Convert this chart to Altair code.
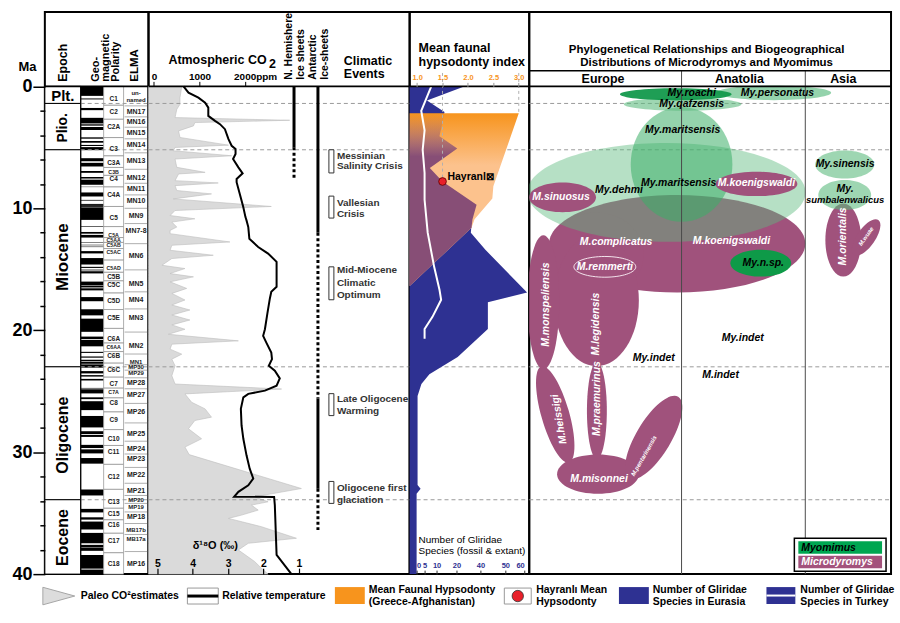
import altair as alt
import pandas as pd

FONT = "Liberation Sans"

# ============================ DATA (Ma = million years ago) ============================
epoch_names = ["Plt.", "Plio.", "Miocene", "Oligocene", "Eocene"]
epoch_top = [0.0, 1.4, 5.2, 23.0, 33.9]
epoch_base = [1.4, 5.2, 23.0, 33.9, 40.0]
epoch_label_ma = [0.8, 3.4, 14.0, 28.6, 37.0]

boundary_ma = [1.4, 5.2, 23.0, 33.9]

normal_top = [0.00, 0.99, 1.77, 2.58, 3.11, 3.33, 4.18, 4.48, 4.80, 4.98, 5.89, 6.27, 6.94,
              7.43, 7.65, 8.23, 8.70, 9.31, 9.64, 9.74, 9.92, 11.48, 11.94, 12.18, 12.78,
              12.99, 13.14, 13.51, 14.08, 14.80, 15.03, 15.16, 16.01, 16.33, 16.56, 17.28,
              18.28, 19.05, 20.52, 20.80, 21.77, 22.15, 22.42, 22.59, 22.80, 23.35, 23.68,
              23.99, 24.73, 24.84, 25.50, 25.82, 27.03, 28.28, 28.58, 29.40, 29.77, 30.48,
              33.06, 34.65, 35.34, 35.69, 36.62, 37.60, 37.85, 38.43, 39.63]
normal_base = [0.78, 1.07, 1.95, 3.04, 3.22, 3.58, 4.29, 4.62, 4.89, 5.23, 6.14, 6.57, 7.09,
               7.56, 8.07, 8.26, 9.03, 9.37, 9.72, 9.88, 10.95, 11.53, 12.08, 12.40, 12.82,
               13.03, 13.18, 13.70, 14.61, 14.89, 15.09, 15.34, 16.29, 16.49, 16.73, 17.62,
               18.78, 20.13, 20.73, 21.32, 21.86, 22.25, 22.54, 22.75, 23.07, 23.54, 23.80,
               24.12, 24.78, 25.18, 25.65, 26.55, 27.97, 28.51, 28.75, 29.66, 30.10, 30.94,
               33.55, 34.94, 35.53, 36.34, 37.47, 37.82, 38.09, 39.55, 40.00]

chron_names = ["C1", "C2", "C2A", "C3", "C3A", "C3B", "C4", "C4A", "C5", "C5A", "C5AA",
               "C5AB", "C5AC", "C5AD", "C5B", "C5C", "C5D", "C5E", "C6A", "C6AA", "C6B",
               "C6C", "C7", "C7A", "C8", "C9", "C10", "C11", "C12", "C13", "C15", "C16",
               "C17", "C18"]
chron_label_ma = [1.0, 2.1, 3.3, 5.1, 6.3, 7.0, 7.6, 8.9, 10.8, 12.2, 12.6, 13.0, 13.6,
                  14.9, 15.6, 16.3, 17.6, 19.0, 20.7, 21.4, 22.1, 23.3, 24.4, 25.1, 26.0,
                  27.4, 28.9, 30.0, 32.0, 34.1, 35.1, 36.0, 37.3, 39.2]

elma_names = ["un-", "named", "MN17", "MN16", "MN15", "MN14", "MN13", "MN12", "MN11",
              "MN10", "MN9", "MN7-8", "MN6", "MN5", "MN4", "MN3", "MN2", "MN1", "MP30",
              "MP29", "MP28", "MP27", "MP26", "MP25", "MP24", "MP23", "MP22", "MP21",
              "MP20", "MP19", "MP18", "MB17b", "MB17a", "MP16"]
elma_label_ma = [0.55, 1.1, 2.1, 2.9, 3.8, 4.8, 6.1, 7.5, 8.4, 9.4, 10.6, 11.9, 13.9, 16.2,
                 17.5, 19.0, 21.3, 22.6, 23.05, 23.5, 24.3, 25.3, 26.7, 28.5, 29.7, 30.6,
                 31.9, 33.2, 33.9, 34.5, 35.3, 36.4, 37.1, 39.2]

# Paleo estimates (grey area) on the delta18O axis
d18o_ma = [0.0, 0.93, 1.47, 1.88, 2.56, 2.78, 2.97, 3.24, 3.65, 4.19,
           4.82, 5.01, 5.28, 5.69, 5.96, 6.64, 7.05, 7.18, 7.73, 7.92,
           8.14, 8.54, 8.82, 9.23, 9.85, 10.18, 10.59, 10.86, 11.13, 11.54,
           11.81, 12.08, 12.76, 13.03, 13.44, 13.85, 14.12, 14.67, 14.94, 15.35,
           15.62, 16.03, 16.57, 16.98, 17.52, 17.93, 18.34, 18.75, 19.16, 19.56,
           19.92, 20.33, 20.87, 21.14, 21.55, 21.96, 22.37, 22.91, 23.73, 24.41,
           24.82, 25.22, 25.91, 26.45, 27.13, 27.40, 28.08, 28.90, 29.58, 30.20,
           32.98, 33.66, 34.07, 34.34, 34.75, 35.16, 35.43, 36.11, 37.06, 37.47,
           38.02, 38.97, 39.51, 40.0]
d18o_val = [4.31, 4.36, 4.36, 4.45, 4.50, 1.26, 3.94, 3.98, 4.40, 4.36,
            2.99, 4.50, 4.55, 2.90, 4.50, 4.45, 3.65, 4.40, 4.50, 3.28,
            4.50, 4.45, 3.47, 4.55, 1.78, 4.50, 4.64, 3.94, 4.59, 4.45,
            4.64, 4.64, 2.95, 4.59, 4.64, 3.42, 4.59, 4.87, 4.22, 4.64,
            3.98, 4.64, 4.17, 4.59, 4.22, 4.59, 4.08, 4.59, 4.08, 4.59,
            4.22, 4.69, 2.71, 4.59, 4.64, 4.31, 4.59, 4.50, 4.59, 4.50,
            1.49, 4.22, 4.03, 3.65, 3.47, 3.94, 4.12, 3.75, 4.22, 4.10,
            0.93, 2.25, 1.87, 2.34, 2.15, 2.62, 2.99, 2.06, 1.07, 2.43,
            2.71, 2.25, 2.06, 1.87]

# Relative temperature (black line), same axis
temp_ma = [0.0, 0.52, 0.93, 1.33, 1.74, 2.42, 2.83, 3.10, 3.51, 4.33,
           4.87, 5.14, 5.55, 5.96, 6.64, 7.13, 7.59, 7.86, 8.82, 9.91,
           10.72, 10.99, 11.54, 12.49, 13.17, 13.71, 14.39, 15.89, 16.44, 16.84,
           17.39, 18.61, 19.92, 20.46, 21.01, 21.82, 22.37, 22.91, 23.32, 23.95,
           24.55, 24.95, 25.22, 25.50, 26.45, 27.81, 28.90, 30.26, 31.35, 32.16,
           32.71, 33.25, 33.66, 33.67, 34.34, 38.42, 40.0]
temp_val = [4.26, 4.12, 3.84, 3.65, 3.56, 3.56, 3.37, 3.23, 3.09, 2.99,
            2.90, 2.79, 2.79, 2.86, 2.71, 2.59, 2.76, 2.76, 2.67, 2.57,
            2.51, 2.48, 2.43, 2.40, 2.15, 1.87, 1.63, 1.63, 1.63, 1.78,
            1.82, 1.89, 1.96, 2.01, 1.92, 1.78, 1.76, 1.85, 1.68, 1.54,
            1.63, 1.96, 2.43, 2.57, 2.64, 2.62, 2.57, 2.48, 2.39, 2.29,
            2.43, 2.71, 2.83, 1.70, 1.68, 1.63, 1.21]

co2_ticks = [0, 1000, 2000]
d18o_ticks = [5, 4, 3, 2, 1]

nh_solid_top, nh_solid_base = [0.0], [5.0]
nh_dot_top, nh_dot_base = [5.0], [7.7]
ant_solid_top, ant_solid_base = [0.0, 25.6], [12.0, 33.0]
ant_dot_top, ant_dot_base = [12.0, 33.0], [25.6, 36.5]

event_top = [5.2, 9.0, 14.8, 25.2, 32.4]
event_base = [7.1, 10.8, 17.5, 27.0, 34.2]
event_lines = ["Messinian", "Salinity Crisis", "Vallesian", "Crisis", "Mid-Miocene",
               "Climatic", "Optimum", "Late Oligocene", "Warming", "Oligocene first",
               "glaciation"]
event_line_ma = [5.7, 6.5, 9.6, 10.5, 15.1, 16.1, 17.1, 25.6, 26.6, 32.9, 33.9]

hyps_ticks = [1.0, 1.5, 2.0, 2.5, 3.0]
glir_ticks = [0, 5, 10, 20, 40, 50, 60]

glir_eur_ma = [0.0, 1.15, 2.1, 4.1, 5.1, 6.7, 7.8, 9.7, 10.9, 12.0, 13.4, 16.9, 17.7,
               19.9, 22.2, 23.6, 24.4, 25.4, 32.7, 33.0, 33.4, 40.0]
glir_eur_n = [27, 6, 14, 11.5, 21, 7, 13, 36.7, 33, 32, 42, 61.5, 43, 43, 21, 7, 3, 0.6,
              0.6, 2.5, 0, 0]

glir_tur_ma = [0.0, 2.0, 3.6, 5.2, 7.1, 9.3, 12.0, 14.8, 16.7, 17.5, 18.9, 19.9, 20.7]
glir_tur_n = [7.8, 2.9, 5, 3.8, 5, 5, 6.3, 9, 11.5, 12.3, 8.3, 5, 5]

hyps_ma = [2.2, 8.2, 9.2, 10.9, 11.6, 14.0, 16.4]
hyps_val = [3.0, 2.5, 2.48, 2.13, 2.07, 1.46, 0.85]
overlap_ma = [2.2, 4.1, 5.1, 6.7, 7.8, 9.7, 10.9, 11.6, 14.0, 16.4]
overlap_val = [1.54, 1.44, 1.79, 1.25, 1.50, 2.17, 2.09, 2.07, 1.46, 0.85]
hayranli_ma, hayranli_val = [7.8], [1.5]

# Phylogeny: x = relative geographic position 0..100 (Europe | Anatolia | Asia)
region_names = ["Europe", "Anatolia", "Asia"]
region_dividers = [42.1, 76.3]

ell_name = ["M.koenigswaldi", "M.complicatus", "M.legidensis", "M.monspeliensis",
            "M.heissigi", "M.praemurinus", "M.misonnei", "M.pentarinensis", "M.orientalis",
            "M.wuae", "My.dehmi", "My.maritsensis", "M.sinuosus", "M.koenigswaldi (2)",
            "My.sinensis", "My.sumbalenwalicus", "My.qafzensis", "My.personatus",
            "My.roachi", "My.n.sp."]
ell_u = [40.9, 18.5, 18.6, 3.9, 7.2, 18.7, 19.0, 34.4, 86.8, 93.1, 37.9, 42.1, 9.2, 62.8,
         87.2, 87.2, 42.4, 67.6, 40.5, 64.0]
ell_ma = [12.9, 13.8, 17.55, 17.7, 26.9, 26.6, 31.8, 28.8, 12.6, 12.4, 8.7, 6.4, 9.1, 8.0,
          6.4, 8.9, 1.47, 0.53, 0.65, 14.5]
ell_wu = [70.8, 26.2, 23.4, 8.8, 7.7, 5.5, 22.6, 9.6, 9.9, 5.0, 76.9, 28.1, 18.5, 22.6,
          16.3, 14.6, 32.5, 31.7, 30.9, 16.8]
ell_hma = [8.0, 6.9, 10.8, 11.0, 8.2, 7.9, 3.2, 7.8, 6.0, 3.5, 8.1, 9.4, 2.45, 2.0, 2.3,
           2.45, 1.06, 1.2, 1.0, 2.2]
remmerti_u, remmerti_ma, remmerti_wu, remmerti_hma = [20.9], [14.8], [17.1], [1.7]

sp_text = ["My.roachi", "My.personatus", "My.qafzensis", "My.maritsensis",
           "My.maritsensis", "My.dehmi", "M.sinuosus", "M.koenigswaldi", "M.complicatus",
           "M.koenigswaldi", "M.remmerti", "My.n.sp.", "My.sinensis", "My.",
           "sumbalenwalicus", "M.orientalis", "M.wuae", "M.monspeliensis", "M.legidensis",
           "M.heissigi", "M.praemurinus", "M.misonnei", "M.pentarinensis", "My.indet",
           "My.indet", "M.indet"]
sp_u = [44.9, 68.6, 44.9, 42.4, 41.3, 24.8, 8.8, 62.8, 24.0, 55.9, 20.9, 64.7, 87.3, 87.3,
        87.3, 86.8, 93.1, 4.7, 18.5, 8.3, 18.7, 19.3, 31.7, 34.4, 59.0, 52.9]
sp_ma = [0.57, 0.57, 1.47, 3.6, 7.9, 8.5, 9.1, 7.9, 12.8, 12.65, 14.8, 14.45, 6.4, 8.4,
         9.3, 12.3, 12.3, 17.9, 19.5, 27.3, 25.6, 32.2, 30.3, 22.3, 20.6, 23.7]
sp_on_purple = [False, False, False, False, False, False, True, True, True, True, True,
                False, False, False, False, True, True, True, True, True, True, True, True,
                False, False, False]

# ============================ LAYOUT / STYLE ============================
H = 564
YMIN, YMAX = -6.1, 40.0
PX_MA = H / (YMAX - YMIN)
Y0 = -YMIN * PX_MA            # pixel row of 0 Ma inside each panel
W_STRAT, W_CLIM, W_HYPS, W_PHYL = 104, 262, 120, 363
PX_U = W_PHYL / 100.0

NAVY = "#2e3192"
ORANGE = "#f7941d"
PEACH = "#fcc28d"
MAUVE = "135,78,118"
PURPLE = "#a0527c"
GREY_DASH = "#9b9b9b"

epoch_label_size = [15, 14, 17, 16, 16]
epoch_label_angle = [0, 270, 270, 270, 270]
chron_small = {"C3B", "C5A", "C5AA", "C5AB", "C5AC", "C5AD", "C6AA", "C7A"}
elma_small = {"un-", "named", "MN1", "MP30", "MP29", "MP20", "MP19", "MB17b", "MB17a"}

ell_kind = ["micro", "micro", "micro", "micro", "micro", "micro", "micro", "micro", "micro",
            "micro", "pale", "mid", "micro", "micro", "light", "light", "light", "mid",
            "dark", "nsp"]
ell_angle = [0, 0, 0, 0, 344, 0, 0, 31, 0, 35, 0, 0, 0, 0, 0, 0, 0, 0, 0, 0]
kind_fill = {"micro": PURPLE, "pale": "#5dbb7e", "mid": "#3cae68", "light": "#5dbb7e",
             "dark": "#13994c", "nsp": "#0e9a48"}
kind_op = {"micro": 1.0, "pale": 0.45, "mid": 0.55, "light": 0.6, "dark": 0.95, "nsp": 1.0}

sp_angle = [0, 0, 0, 0, 0, 0, 0, 0, 0, 0, 0, 0, 0, 0, 0, 270, 305, 270, 270, 260, 270, 0,
            300, 0, 0, 0]
sp_size = [10.5] * 26
sp_size[14] = 9.5
sp_size[16] = 6
sp_size[22] = 6

YSC = alt.Scale(domain=[YMIN, YMAX], reverse=True, nice=False, zero=False)
VIEW = alt.ViewBackground(stroke="black", strokeWidth=2)
ONE = pd.DataFrame({"k": [0]})


def Y(field="ma"):
    return alt.Y(f"{field}:Q", scale=YSC, axis=None)


def txt(text, x, y, size=11.0, weight="bold", angle=0, align="center", color="black",
        style="normal"):
    return alt.Chart(ONE).mark_text(
        text=text, font=FONT, fontSize=size, fontWeight=weight, angle=angle, align=align,
        baseline="middle", color=color, fontStyle=style
    ).encode(x=alt.value(x), y=alt.value(y))


bound_df = pd.DataFrame({"ma": boundary_ma})


def dashed(x0, x1):
    return alt.Chart(bound_df).mark_rule(color=GREY_DASH, strokeDash=[4, 3], strokeWidth=1).encode(
        y=Y(), x=alt.value(x0), x2=alt.value(x1))


zero_df = pd.DataFrame({"ma": [0.0]})


def zero_line(w):
    return alt.Chart(zero_df).mark_rule(color="black", strokeWidth=2).encode(
        y=Y(), x=alt.value(0), x2=alt.value(w))


def ellipse_path(wpx, hpx):
    d = max(wpx, hpx)
    rx, ry = wpx / d, hpx / d
    k = 0.5523
    kx, ky = k * rx, k * ry
    p = (f"M {rx:.4f} 0 C {rx:.4f} {ky:.4f} {kx:.4f} {ry:.4f} 0 {ry:.4f} "
         f"C {-kx:.4f} {ry:.4f} {-rx:.4f} {ky:.4f} {-rx:.4f} 0 "
         f"C {-rx:.4f} {-ky:.4f} {-kx:.4f} {-ry:.4f} 0 {-ry:.4f} "
         f"C {kx:.4f} {-ry:.4f} {rx:.4f} {-ky:.4f} {rx:.4f} 0 Z")
    return p, d * d


# ============================ PANEL 1: stratigraphy ============================
ep_df = pd.DataFrame({"name": epoch_names, "top": epoch_top, "base": epoch_base,
                      "lab": epoch_label_ma, "sz": epoch_label_size, "ang": epoch_label_angle})
ma_axis = alt.Axis(
    values=list(range(0, 41, 2)),
    labelExpr="datum.value % 10 == 0 ? datum.label : ''",
    labelFontSize=18, labelFontWeight="bold", labelFont=FONT, labelColor="black",
    labelPadding=1, labelOverlap=False,
    tickSize={"condition": {"test": "datum.value % 10 == 0", "value": 12}, "value": 5},
    tickWidth=1.5, tickColor="black", domain=False, grid=False, zindex=1,
    title="Ma", titleAngle=0, titleX=-18, titleY=55, titleAlign="center",
    titleBaseline="middle", titleFontSize=13, titleFontWeight="bold", titleFont=FONT,
    titleColor="black")

ep_rect = alt.Chart(ep_df).mark_rect(fill="white", stroke="black", strokeWidth=1).encode(
    x=alt.value(0), x2=alt.value(36),
    y=alt.Y("top:Q", scale=YSC, axis=ma_axis), y2="base:Q")
ep_text = alt.Chart(ep_df).mark_text(fontWeight="bold", font=FONT, color="black").encode(
    x=alt.value(18), y=Y("lab"), text="name:N",
    size=alt.Size("sz:Q", scale=None), angle=alt.Angle("ang:Q", scale=None))

pol_df = pd.DataFrame({"top": normal_top, "base": normal_base})
pol = alt.Chart(pol_df).mark_rect(fill="black").encode(
    x=alt.value(36), x2=alt.value(59), y=Y("top"), y2="base:Q")

cb = [0.0] + [(a + b) / 2 for a, b in zip(chron_label_ma[:-1], chron_label_ma[1:])] + [40.0]
chron_df = pd.DataFrame({"name": chron_names, "ma": chron_label_ma, "top": cb[:-1],
                         "base": cb[1:],
                         "sz": [5.3 if n in chron_small else 6.5 for n in chron_names]})
chron_box = alt.Chart(chron_df).mark_rect(fill="white", stroke="#8c8c8c", strokeWidth=0.7).encode(
    x=alt.value(59), x2=alt.value(79), y=Y("top"), y2="base:Q")
chron_txt = alt.Chart(chron_df).mark_text(fontWeight="bold", font=FONT, color="#222").encode(
    x=alt.value(69), y=Y(), text="name:N", size=alt.Size("sz:Q", scale=None))

zones = elma_label_ma[1:]
elma_sep_df = pd.DataFrame({"ma": [(a + b) / 2 for a, b in zip(zones[:-1], zones[1:])]})
elma_sep = alt.Chart(elma_sep_df).mark_rule(color="#9a9a9a", strokeWidth=0.8).encode(
    y=Y(), x=alt.value(80), x2=alt.value(103))
elma_df = pd.DataFrame({"name": elma_names, "ma": elma_label_ma,
                        "sz": [6 if n in elma_small else 7 for n in elma_names]})
elma_txt = alt.Chart(elma_df).mark_text(fontWeight="bold", font=FONT, color="#222").encode(
    x=alt.value(91.5), y=Y(), text="name:N", size=alt.Size("sz:Q", scale=None))

col_sep_df = pd.DataFrame({"a": [0.0], "b": [40.0]})
col_sep = alt.Chart(col_sep_df).mark_rule(color="black", strokeWidth=1).encode(
    x=alt.value(36), y=Y("a"), y2="b:Q")

strat = alt.layer(
    ep_rect, pol, chron_box, elma_sep, dashed(36, 104), col_sep, chron_txt, elma_txt,
    ep_text, zero_line(W_STRAT),
    txt("Epoch", 18, 70, 12.5, angle=270, align="left"),
    txt("Geo-", 51, 70, 11, angle=270, align="left"),
    txt("magnetic", 61, 70, 11, angle=270, align="left"),
    txt("Polarity", 71, 70, 11, angle=270, align="left"),
    txt("ELMA", 90, 70, 11.5, angle=270, align="left"),
).resolve_axis(y="independent").properties(width=W_STRAT, height=H, view=VIEW)

# ============================ PANEL 2: climate ============================
DSC = alt.Scale(domain=[5.25, -2.13], nice=False, zero=False)
CO2SC = alt.Scale(domain=[-120, 5607], nice=False, zero=False)

d18_df = pd.DataFrame({"ma": d18o_ma, "d": d18o_val})
grey = alt.Chart(d18_df).mark_area(orient="horizontal", fill="#dadada", stroke="#bdbdbd",
                                   strokeWidth=0.6).encode(
    x=alt.X("d:Q", scale=DSC, stack=False, axis=alt.Axis(
        orient="top", offset=-H, values=d18o_ticks, format="d", labelFontSize=10.5,
        labelFontWeight="bold", labelFont=FONT, labelColor="black", labelPadding=0,
        labelOverlap=False, tickSize=6, tickColor="black", tickWidth=1.2, domain=False,
        grid=False, zindex=1, title=None)),
    x2=alt.value(0), y=Y())

temp_df = pd.DataFrame({"ma": temp_ma, "d": temp_val, "i": list(range(len(temp_ma)))})
temp = alt.Chart(temp_df).mark_line(color="black", strokeWidth=2).encode(
    x=alt.X("d:Q", scale=DSC, axis=None), y=Y(), order="i:Q")

co2_df = pd.DataFrame({"ppm": co2_ticks})
co2 = alt.Chart(co2_df).mark_rule(opacity=0).encode(
    x=alt.X("ppm:Q", scale=CO2SC, axis=alt.Axis(
        orient="top", offset=-Y0, values=co2_ticks,
        labelExpr="datum.value == 2000 ? '2000ppm' : format(datum.value, 'd')",
        labelOffset={"condition": {"test": "datum.value == 2000", "value": 10}, "value": 0},
        labelFontSize=10, labelFontWeight="bold", labelFont=FONT, labelColor="black",
        labelPadding=0, labelOverlap=False, tickSize=5, tickColor="black", domain=False,
        grid=False, zindex=1, title=None)))


def ice(tops, bases, x, dotted):
    df = pd.DataFrame({"top": tops, "base": bases})
    props = dict(color="black", strokeWidth=3)
    if dotted:
        props["strokeDash"] = [3, 2.5]
    return alt.Chart(df).mark_rule(**props).encode(x=alt.value(x), y=Y("top"), y2="base:Q")


ev_df = pd.DataFrame({"top": event_top, "base": event_base})
ev_box = alt.Chart(ev_df).mark_rect(fill="white", stroke="#333333", strokeWidth=1).encode(
    x=alt.value(181), x2=alt.value(186), y=Y("top"), y2="base:Q")
evl_df = pd.DataFrame({"t": event_lines, "ma": event_line_ma})
ev_txt = alt.Chart(evl_df).mark_text(align="left", fontSize=10, fontWeight="bold", font=FONT,
                                     color="#333333").encode(
    x=alt.value(189), y=Y(), text="t:N")

climate = alt.layer(
    grey, dashed(0, W_CLIM), temp,
    ice(nh_solid_top, nh_solid_base, 146, False), ice(nh_dot_top, nh_dot_base, 146, True),
    ice(ant_solid_top, ant_solid_base, 170, False), ice(ant_dot_top, ant_dot_base, 170, True),
    ev_box, ev_txt, co2, zero_line(W_CLIM),
    txt("Atmospheric CO", 20, 48, 12.5, align="left"),
    txt("2", 121, 52, 12.5, align="left"),
    txt("N. Hemishere", 141, 68, 10.5, angle=270, align="left"),
    txt("Ice sheets", 153, 68, 10.5, angle=270, align="left"),
    txt("Antarctic", 165, 68, 10.5, angle=270, align="left"),
    txt("Ice-sheets", 177, 68, 10.5, angle=270, align="left"),
    txt("Climatic", 196, 49, 12.5, align="left"),
    txt("Events", 196, 62, 12.5, align="left"),
    txt("δ¹⁸O (‰)", 67, 536, 11),
).resolve_scale(x="independent").properties(width=W_CLIM, height=H, view=VIEW)

# ============================ PANEL 3: hypsodonty ============================
HSC = alt.Scale(domain=[0.853, 3.206], nice=False, zero=False)
GSC = alt.Scale(domain=glir_ticks, range=[7, 15, 27, 47, 71, 96, 115], nice=False, zero=False)

eur_df = pd.DataFrame({"ma": glir_eur_ma, "n": glir_eur_n})
blue = alt.Chart(eur_df).mark_area(orient="horizontal", color=NAVY).encode(
    x=alt.X("n:Q", scale=GSC, stack=False, axis=alt.Axis(
        orient="top", offset=-H, values=glir_ticks, format="d", labelFontSize=7.5,
        labelFontWeight="bold", labelFont=FONT, labelColor=NAVY, labelPadding=1,
        labelOverlap=False, tickSize=4, tickColor="#333", domain=False, grid=False,
        zindex=1, title=None)),
    x2=alt.value(0), y=Y())

orange_grad = alt.LinearGradient(
    gradient="linear", x1=0, x2=0, y1=0, y2=1,
    stops=[alt.GradientStop(offset=0, color=ORANGE),
           alt.GradientStop(offset=0.3, color=PEACH),
           alt.GradientStop(offset=1, color=PEACH)])
hyp_df = pd.DataFrame({"ma": hyps_ma, "h": hyps_val})
orange = alt.Chart(hyp_df).mark_area(orient="horizontal", color=orange_grad).encode(
    x=alt.X("h:Q", scale=HSC, stack=False, axis=alt.Axis(
        orient="top", offset=-Y0, values=hyps_ticks, format=".1f", labelFontSize=7.5,
        labelFontWeight="bold", labelFont=FONT, labelColor=ORANGE, labelPadding=1,
        labelOverlap=False, tickSize=4, tickColor="#999", domain=False, grid=False,
        zindex=1, title=None)),
    x2=alt.value(0), y=Y())

mauve_grad = alt.LinearGradient(
    gradient="linear", x1=0, x2=0, y1=0, y2=1,
    stops=[alt.GradientStop(offset=0, color=f"rgba({MAUVE},0)"),
           alt.GradientStop(offset=0.12, color=f"rgba({MAUVE},0.45)"),
           alt.GradientStop(offset=0.25, color=f"rgba({MAUVE},1)"),
           alt.GradientStop(offset=1, color=f"rgba({MAUVE},1)")])
ov_df = pd.DataFrame({"ma": overlap_ma, "h": overlap_val})
overlap = alt.Chart(ov_df).mark_area(orient="horizontal", color=mauve_grad).encode(
    x=alt.X("h:Q", scale=HSC, stack=False, axis=None), x2=alt.value(0), y=Y())

tur_df = pd.DataFrame({"ma": glir_tur_ma, "n": glir_tur_n, "i": list(range(len(glir_tur_ma)))})
turkey = alt.Chart(tur_df).mark_line(color="white", strokeWidth=2).encode(
    x=alt.X("n:Q", scale=GSC, axis=None), y=Y(), order="i:Q")

guide_df = pd.DataFrame({"h": [1.5, 3.0], "a": [-1.1, -1.1], "b": [7.8, 2.2]})
guides = alt.Chart(guide_df).mark_rule(color="#b0b0b0", strokeDash=[3, 3], strokeWidth=1).encode(
    x=alt.X("h:Q", scale=HSC, axis=None), y=Y("a"), y2="b:Q")

hay_df = pd.DataFrame({"ma": hayranli_ma, "h": hayranli_val})
hay_pt = alt.Chart(hay_df).mark_point(filled=True, color="#e8202a", stroke="#5a0000",
                                      strokeWidth=0.8, size=60, opacity=1).encode(
    x=alt.X("h:Q", scale=HSC, axis=None), y=Y())
hay_lab = alt.Chart(hay_df).mark_text(text="Hayranl⊠", align="left", dx=5, dy=-4,
                                      fontSize=10.5, fontWeight="bold", font=FONT,
                                      color="black").encode(
    x=alt.X("h:Q", scale=HSC, axis=None), y=Y())

hyps = alt.layer(
    dashed(0, W_HYPS), blue, orange, overlap, turkey, guides, hay_pt, hay_lab,
    zero_line(W_HYPS),
    txt("Mean faunal", 9, 36, 12.5, align="left"),
    txt("hypsodonty index", 9, 50, 12.5, align="left"),
    txt("Number of Gliridae", 9, 530, 10, weight="normal", align="left"),
    txt("Species (fossil & extant)", 9, 541, 10, weight="normal", align="left"),
).resolve_scale(x="independent").properties(width=W_HYPS, height=H, view=VIEW)

# ============================ PANEL 4: phylogeny ============================
USC = alt.Scale(domain=[0, 100], nice=False, zero=False)

paths, sizes = [], []
for w, h in zip(ell_wu, ell_hma):
    p, s = ellipse_path(w * PX_U, h * PX_MA)
    paths.append(p)
    sizes.append(s)
ell_df = pd.DataFrame({"name": ell_name, "u": ell_u, "ma": ell_ma, "ang": ell_angle,
                       "path": paths, "sz": sizes,
                       "fill": [kind_fill[k] for k in ell_kind],
                       "op": [kind_op[k] for k in ell_kind],
                       "i": list(range(len(ell_name)))})
ellipses = alt.Chart(ell_df).mark_point(filled=True, strokeWidth=0, clip=True).encode(
    x=alt.X("u:Q", scale=USC, axis=None), y=Y(),
    shape=alt.Shape("path:N", scale=None), size=alt.Size("sz:Q", scale=None),
    angle=alt.Angle("ang:Q", scale=None), fill=alt.Fill("fill:N", scale=None),
    opacity=alt.Opacity("op:Q", scale=None), order=alt.Order("i:Q"))

rp, rs = ellipse_path(remmerti_wu[0] * PX_U, remmerti_hma[0] * PX_MA)
rem_df = pd.DataFrame({"u": remmerti_u, "ma": remmerti_ma, "path": [rp], "sz": [rs]})
remmerti = alt.Chart(rem_df).mark_point(filled=False, stroke="#f3e3ec", strokeWidth=1,
                                        opacity=1).encode(
    x=alt.X("u:Q", scale=USC, axis=None), y=Y(),
    shape=alt.Shape("path:N", scale=None), size=alt.Size("sz:Q", scale=None))

div_df = pd.DataFrame({"u": region_dividers})
dividers = alt.Chart(div_df).mark_rule(color="#4a4a4a", strokeWidth=1).encode(
    x=alt.X("u:Q", scale=USC, axis=None), y=alt.value(59), y2=alt.value(H))

sp_df = pd.DataFrame({"t": sp_text, "u": sp_u, "ma": sp_ma,
                      "col": ["white" if p else "black" for p in sp_on_purple],
                      "ang": sp_angle, "sz": sp_size})
species = alt.Chart(sp_df).mark_text(fontStyle="italic", fontWeight="bold", font=FONT).encode(
    x=alt.X("u:Q", scale=USC, axis=None), y=Y(), text="t:N",
    color=alt.Color("col:N", scale=None), angle=alt.Angle("ang:Q", scale=None),
    size=alt.Size("sz:Q", scale=None))

reg_df = pd.DataFrame({"t": region_names, "u": [20.4, 58.1, 86.8]})
regions = alt.Chart(reg_df).mark_text(fontSize=12.5, fontWeight="bold", font=FONT,
                                      color="black").encode(
    x=alt.X("u:Q", scale=USC, axis=None), y=alt.value(67), text="t:N")

hdr_line = alt.Chart(ONE).mark_rule(color="black", strokeWidth=1.5).encode(
    x=alt.value(0), x2=alt.value(W_PHYL), y=alt.value(59))

leg_box = alt.Chart(ONE).mark_rect(fill="white", stroke="black", strokeWidth=1.5).encode(
    x=alt.value(266), x2=alt.value(358), y=alt.value(528), y2=alt.value(561))
leg_g = alt.Chart(ONE).mark_rect(fill="#00a651").encode(
    x=alt.value(270), x2=alt.value(354), y=alt.value(531), y2=alt.value(543.5))
leg_p = alt.Chart(ONE).mark_rect(fill="#a3527c").encode(
    x=alt.value(270), x2=alt.value(354), y=alt.value(545.5), y2=alt.value(558))

phylo = alt.layer(
    dashed(0, W_PHYL), ellipses, remmerti, dividers, species, regions, hdr_line,
    zero_line(W_PHYL), leg_box, leg_g, leg_p,
    txt("Myomimus", 273, 537.5, 10.5, style="italic", align="left"),
    txt("Microdyromys", 273, 552, 10.5, style="italic", align="left", color="white"),
    txt("Phylogenetical Relationships and Biogeographical", 178, 38, 11.5),
    txt("Distributions of Microdyromys and Myomimus", 178, 51, 11.5),
).properties(width=W_PHYL, height=H, view=VIEW)

# ============================ bottom legend ============================
LEG_W, LEG_H = W_STRAT + W_CLIM + W_HYPS + W_PHYL, 30
tri = alt.Chart(ONE).mark_point(shape="M -1 -0.55 L 1 0 L -1 0.55 Z", size=1024, filled=True,
                                fill="#dcdcdc", stroke="#a6a6a6", strokeWidth=1,
                                opacity=1).encode(x=alt.value(14), y=alt.value(12))


def box(x0, x1, y0, y1, fill, stroke="#9a9a9a", sw=0.0):
    return alt.Chart(ONE).mark_rect(fill=fill, stroke=stroke, strokeWidth=sw).encode(
        x=alt.value(x0), x2=alt.value(x1), y=alt.value(y0), y2=alt.value(y1))


legend = alt.layer(
    tri, txt("Paleo CO²estimates", 36, 12, 10.5, align="left"),
    box(143, 174, 4, 20, "white", sw=1),
    alt.Chart(ONE).mark_rule(color="black", strokeWidth=3).encode(
        x=alt.value(143), x2=alt.value(174), y=alt.value(12)),
    txt("Relative temperature", 178, 12, 10.5, align="left"),
    box(291, 321, 3, 20, ORANGE),
    txt("Mean Faunal Hypsodonty", 325, 6, 10.5, align="left"),
    txt("(Greece-Afghanistan)", 325, 18, 10.5, align="left"),
    box(461, 488, 4, 20, "white", sw=1),
    alt.Chart(ONE).mark_point(filled=True, color="#e8202a", stroke="#333", strokeWidth=0.8,
                              size=130, opacity=1).encode(x=alt.value(474.5), y=alt.value(12)),
    txt("Hayranlı Mean", 493, 6, 10.5, align="left"),
    txt("Hypsodonty", 493, 18, 10.5, align="left"),
    box(576, 606, 3, 20, NAVY),
    txt("Number of Gliridae", 610, 6, 10.5, align="left"),
    txt("Species in Eurasia", 610, 18, 10.5, align="left"),
    box(724, 753, 3, 20, NAVY),
    alt.Chart(ONE).mark_rule(color="white", strokeWidth=2).encode(
        x=alt.value(724), x2=alt.value(753), y=alt.value(11.5)),
    txt("Number of Gliridae", 758, 6, 10.5, align="left"),
    txt("Species in Turkey", 758, 18, 10.5, align="left"),
).properties(width=LEG_W, height=LEG_H,
             view=alt.ViewBackground(stroke="transparent"))

main = alt.hconcat(strat, climate, hyps, phylo, spacing=0, bounds="flush")
chart = alt.vconcat(main, legend, spacing=-7).properties(
    padding={"left": 10, "top": 10, "right": 4, "bottom": 3}
).configure(font=FONT)

chart.save("out.html", embed_options={"renderer": "svg", "actions": False})
